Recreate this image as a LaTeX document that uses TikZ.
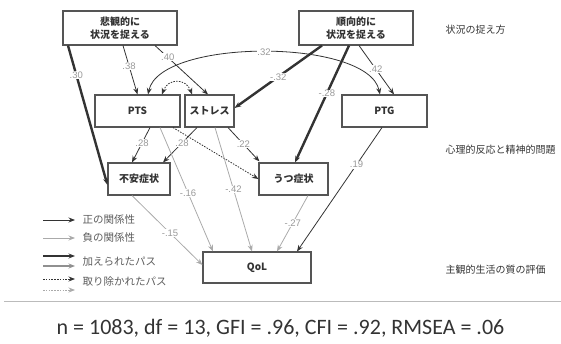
\documentclass[tikz,border=0pt]{standalone}
\usepackage{fontspec}
\setmainfont{Liberation Sans}
\newfontfamily\jpfont{Noto Sans CJK JP}
\newfontfamily\calfont{Carlito}
\usetikzlibrary{arrows.meta}
\definecolor{boxc}{HTML}{555555}
\definecolor{txtc}{HTML}{333333}
\definecolor{darkc}{HTML}{333333}
\definecolor{lightc}{HTML}{AAAAAA}
\definecolor{labc}{HTML}{999999}
\definecolor{rulec}{HTML}{BBBBBB}
\begin{document}
\begin{tikzpicture}[x=1pt,y=-1pt,
  box/.style={draw=boxc, line width=1.1pt, fill=white, text=txtc, align=center, inner sep=0pt,
    font=\jpfont\bfseries\fontsize{10}{12.5}\selectfont},
  tip/.style={-{Stealth[length=6.5pt,width=5pt]}},
  posarr/.style={tip, draw=darkc, line width=0.8pt},
  negarr/.style={tip, draw=lightc, line width=0.8pt},
  thickarr/.style={tip, draw=darkc, line width=2.4pt},
  thickgray/.style={tip, draw=lightc!85!black, line width=2.4pt},
  dotarr/.style={draw=darkc, line width=0.8pt, dash pattern=on 1.5pt off 1.3pt},
  dotgray/.style={tip, draw=lightc, line width=0.8pt, dash pattern=on 1.5pt off 1.3pt},
  lab/.style={fill=white, inner sep=0.6pt, text=labc, font=\fontsize{9.5}{10}\selectfont},
  side/.style={anchor=west, text=txtc, font=\jpfont\fontsize{10}{12}\selectfont},
  legtxt/.style={anchor=west, text=txtc!80, font=\jpfont\fontsize{10.5}{12}\selectfont}
]
\useasboundingbox (0,0) rectangle (561,344);

% boxes
\node[box, minimum width=114pt, minimum height=34pt] (pes) at (120,28) {悲観的に\\状況を捉える};
\node[box, minimum width=114pt, minimum height=34pt] (opt) at (356,28) {順向的に\\状況を捉える};
\node[box, minimum width=85pt, minimum height=32pt] (pts) at (137.5,111) {PTS};
\node[box, minimum width=49pt, minimum height=32pt] (str) at (209.5,111) {ストレス};
\node[box, minimum width=85pt, minimum height=32pt] (ptg) at (384.5,111) {PTG};
\node[box, minimum width=62pt, minimum height=32pt] (anx) at (139,179) {不安症状};
\node[box, minimum width=69pt, minimum height=32pt] (dep) at (293.5,179) {うつ症状};
\node[box, minimum width=108pt, minimum height=31pt] (qol) at (257,267.5) {QoL};

% side labels
\node[side] (s1) at (442,30) {状況の捉え方};
\node[side] (s2) at (442,150) {心理的反応と精神的問題};
\node[side] (s3) at (442,270) {主観的生活の質の評価};

% connectors
\draw[thickarr] ([xshift=-52pt]pes.south) -- node[lab,pos=0.21]{.30} ([yshift=-6pt]anx.west);
\draw[posarr] ([xshift=3pt]pes.south) -- node[lab,pos=0.42]{.38} (pts.north);
\draw[posarr] ([xshift=35pt]pes.south) -- node[lab,pos=0.24]{.40} ([xshift=-1.5pt]str.north);
\draw[posarr, {Stealth[length=6.5pt,width=5pt]}-{Stealth[length=6.5pt,width=5pt]}]
  ([xshift=10.5pt]pts.north) .. controls (160,38) and (368,38) .. node[lab,pos=0.5]{.32} ([xshift=-4.5pt]ptg.north);
\draw[dotarr, {Stealth[length=6.5pt,width=5pt]}-{Stealth[length=6.5pt,width=5pt]}]
  ([xshift=24.5pt]pts.north) .. controls (168,78) and (186,78) .. ([xshift=-17.5pt]str.north);
\draw[thickarr] ([xshift=-34pt]opt.south) -- node[lab,pos=0.5]{-.32} ([yshift=3pt]str.east);
\draw[thickarr] ([xshift=-7pt]opt.south) -- node[lab,pos=0.41]{-.28} ([xshift=1.5pt]dep.north);
\draw[posarr] ([xshift=3pt]opt.south) -- node[lab,pos=0.48]{.42} ([xshift=9.5pt]ptg.north);
\draw[posarr] ([xshift=12.5pt]pts.south) -- node[lab,pos=0.44]{.28} ([xshift=-7pt]anx.north);
\draw[posarr] ([xshift=-12.5pt]str.south) -- node[lab,pos=0.44]{.28} ([xshift=24pt]anx.north);
\draw[posarr] ([xshift=18.5pt]str.south) -- node[lab,pos=0.49]{.22} ([xshift=1pt,yshift=1pt]dep.north west);
\draw[dotarr, tip] ([xshift=35.5pt]pts.south) -- (dep.west);
\draw[negarr] ([xshift=22.5pt]pts.south) -- node[lab,pos=0.53]{-.16} ([xshift=-44pt]qol.north);
\draw[negarr] ([xshift=5.5pt]str.south) -- node[lab,pos=0.5]{-.42} ([xshift=-5pt]qol.north);
\draw[negarr] ([xshift=14.5pt]dep.south) -- node[lab,pos=0.49]{-.27} ([xshift=20pt]qol.north);
\draw[negarr] ([xshift=-7pt]anx.south) -- node[lab,pos=0.54]{-.15} ([yshift=2.5pt]qol.west);
\draw[posarr] ([xshift=-2.5pt]ptg.south) -- node[lab,pos=0.3]{.19} ([xshift=40pt]qol.north);

% legend
\coordinate (la1) at (43,220); \coordinate (lb1) at (75,220);
\coordinate (la2) at (43,238); \coordinate (lb2) at (75,238);
\coordinate (la3) at (43,256); \coordinate (lb3) at (75,256);
\coordinate (la4) at (43,266); \coordinate (lb4) at (75,266);
\coordinate (la5) at (43,279); \coordinate (lb5) at (75,279);
\coordinate (la6) at (43,290); \coordinate (lb6) at (75,290);
\draw[posarr] (la1) -- (lb1);
\draw[negarr] (la2) -- (lb2);
\draw[thickarr] (la3) -- (lb3);
\draw[thickgray] (la4) -- (lb4);
\draw[dotarr, tip] (la5) -- (lb5);
\draw[dotgray] (la6) -- (lb6);
\node[legtxt] (t1) at (79,220) {正の関係性};
\node[legtxt] (t2) at (79,238) {負の関係性};
\node[legtxt] (t3) at (79,262) {加えられたパス};
\node[legtxt] (t4) at (79,282) {取り除かれたパス};

% rule and statistics
\coordinate (hr1) at (4,301); \coordinate (hr2) at (561,301);
\draw[rulec, line width=0.8pt] (hr1) -- (hr2);
\node[anchor=base, text=txtc, font=\calfont\fontsize{22}{24}\selectfont] (stats) at (280.5,334) {n = 1083, df = 13, GFI = .96, CFI = .92, RMSEA = .06};
\end{tikzpicture}
\end{document}
